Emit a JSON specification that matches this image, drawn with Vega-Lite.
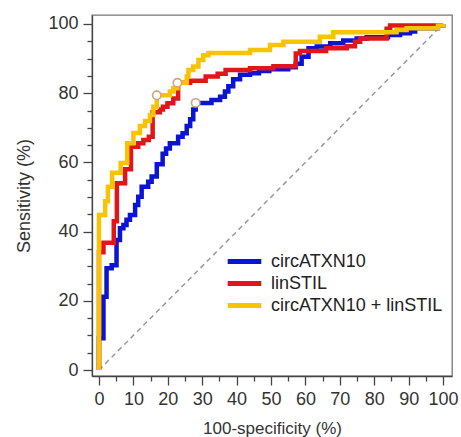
{
  "$schema": "https://vega.github.io/schema/vega-lite/v6.json",
  "width": 360,
  "height": 361,
  "autosize": {"type": "none"},
  "padding": {"left": 92, "top": 15, "right": 9, "bottom": 61},
  "background": "white",
  "config": {
    "view": {"stroke": "#777", "strokeWidth": 1.3},
    "font": "Liberation Sans",
    "axis": {
      "grid": false,
      "domainColor": "#444",
      "domainWidth": 1.3,
      "tickColor": "#444",
      "tickWidth": 1.3,
      "labelColor": "#333",
      "titleColor": "#333",
      "labelFont": "Liberation Sans",
      "titleFont": "Liberation Sans",
      "labelFontSize": 18,
      "titleFontWeight": "normal",
      "labelOverlap": false,
      "labelFlush": false
    },
    "legend": {
      "orient": "none",
      "legendX": 143,
      "legendY": 237,
      "padding": 0,
      "labelFont": "Liberation Sans",
      "labelFontSize": 18,
      "labelColor": "#222",
      "labelLimit": 0,
      "symbolType": "M-2.4,0H2.4",
      "symbolSize": 196,
      "symbolStrokeWidth": 5,
      "labelOffset": 17,
      "rowPadding": 1
    }
  },
  "datasets": {
    "roc": [
      {"s": "circATXN10", "i": 0, "x": 0, "y": 0},
      {"s": "circATXN10", "i": 1, "x": 0, "y": 9.2},
      {"s": "circATXN10", "i": 2, "x": 1.3, "y": 21.2},
      {"s": "circATXN10", "i": 3, "x": 2.2, "y": 29.4},
      {"s": "circATXN10", "i": 4, "x": 3.7, "y": 30.3},
      {"s": "circATXN10", "i": 5, "x": 5.1, "y": 37.6},
      {"s": "circATXN10", "i": 6, "x": 6.1, "y": 41},
      {"s": "circATXN10", "i": 7, "x": 7.1, "y": 41.9},
      {"s": "circATXN10", "i": 8, "x": 8, "y": 43.4},
      {"s": "circATXN10", "i": 9, "x": 9, "y": 44.8},
      {"s": "circATXN10", "i": 10, "x": 10.5, "y": 47.7},
      {"s": "circATXN10", "i": 11, "x": 11.4, "y": 50.1},
      {"s": "circATXN10", "i": 12, "x": 12.4, "y": 53},
      {"s": "circATXN10", "i": 13, "x": 14.3, "y": 54.4},
      {"s": "circATXN10", "i": 14, "x": 15.3, "y": 55.9},
      {"s": "circATXN10", "i": 15, "x": 16.8, "y": 59.5},
      {"s": "circATXN10", "i": 16, "x": 18.5, "y": 62.5},
      {"s": "circATXN10", "i": 17, "x": 19.5, "y": 64},
      {"s": "circATXN10", "i": 18, "x": 20.6, "y": 65.5},
      {"s": "circATXN10", "i": 19, "x": 23, "y": 67.4},
      {"s": "circATXN10", "i": 20, "x": 24.3, "y": 68.4},
      {"s": "circATXN10", "i": 21, "x": 25.5, "y": 70.5},
      {"s": "circATXN10", "i": 22, "x": 26.5, "y": 72.5},
      {"s": "circATXN10", "i": 23, "x": 27.4, "y": 75.3},
      {"s": "circATXN10", "i": 24, "x": 28.1, "y": 77.2},
      {"s": "circATXN10", "i": 25, "x": 32.7, "y": 78},
      {"s": "circATXN10", "i": 26, "x": 35.2, "y": 79},
      {"s": "circATXN10", "i": 27, "x": 36.6, "y": 80.5},
      {"s": "circATXN10", "i": 28, "x": 37.6, "y": 82},
      {"s": "circATXN10", "i": 29, "x": 39, "y": 84},
      {"s": "circATXN10", "i": 30, "x": 41, "y": 85.3},
      {"s": "circATXN10", "i": 31, "x": 43.9, "y": 85.8},
      {"s": "circATXN10", "i": 32, "x": 46.5, "y": 86.4},
      {"s": "circATXN10", "i": 33, "x": 49.5, "y": 86.9},
      {"s": "circATXN10", "i": 34, "x": 55, "y": 87.5},
      {"s": "circATXN10", "i": 35, "x": 57.2, "y": 88.5},
      {"s": "circATXN10", "i": 36, "x": 58.9, "y": 90.5},
      {"s": "circATXN10", "i": 37, "x": 60.9, "y": 93},
      {"s": "circATXN10", "i": 38, "x": 63.3, "y": 93.5},
      {"s": "circATXN10", "i": 39, "x": 67.2, "y": 94.4},
      {"s": "circATXN10", "i": 40, "x": 71, "y": 95.2},
      {"s": "circATXN10", "i": 41, "x": 74.9, "y": 95.8},
      {"s": "circATXN10", "i": 42, "x": 77.8, "y": 96.2},
      {"s": "circATXN10", "i": 43, "x": 84, "y": 96.8},
      {"s": "circATXN10", "i": 44, "x": 87.5, "y": 97.3},
      {"s": "circATXN10", "i": 45, "x": 90.4, "y": 97.8},
      {"s": "circATXN10", "i": 46, "x": 91.9, "y": 98.8},
      {"s": "circATXN10", "i": 47, "x": 98.5, "y": 99.6},
      {"s": "circATXN10", "i": 48, "x": 100, "y": 100},
      {"s": "linSTIL", "i": 0, "x": 0, "y": 0},
      {"s": "linSTIL", "i": 1, "x": 0, "y": 34},
      {"s": "linSTIL", "i": 2, "x": 1.3, "y": 36.8},
      {"s": "linSTIL", "i": 3, "x": 4.3, "y": 43},
      {"s": "linSTIL", "i": 4, "x": 5.2, "y": 54},
      {"s": "linSTIL", "i": 5, "x": 7.6, "y": 58},
      {"s": "linSTIL", "i": 6, "x": 9.3, "y": 64.5},
      {"s": "linSTIL", "i": 7, "x": 11.4, "y": 65.5},
      {"s": "linSTIL", "i": 8, "x": 12.9, "y": 66.5},
      {"s": "linSTIL", "i": 9, "x": 14.5, "y": 67.4},
      {"s": "linSTIL", "i": 10, "x": 15.6, "y": 74.5},
      {"s": "linSTIL", "i": 11, "x": 17.7, "y": 75.3},
      {"s": "linSTIL", "i": 12, "x": 18.6, "y": 76.1},
      {"s": "linSTIL", "i": 13, "x": 19.9, "y": 77.1},
      {"s": "linSTIL", "i": 14, "x": 21.6, "y": 78.5},
      {"s": "linSTIL", "i": 15, "x": 23, "y": 83},
      {"s": "linSTIL", "i": 16, "x": 26.5, "y": 83.6},
      {"s": "linSTIL", "i": 17, "x": 31, "y": 84.8},
      {"s": "linSTIL", "i": 18, "x": 34.5, "y": 85.6},
      {"s": "linSTIL", "i": 19, "x": 36.8, "y": 86.7},
      {"s": "linSTIL", "i": 20, "x": 43.9, "y": 87.2},
      {"s": "linSTIL", "i": 21, "x": 50.7, "y": 87.8},
      {"s": "linSTIL", "i": 22, "x": 57.2, "y": 91.5},
      {"s": "linSTIL", "i": 23, "x": 58.4, "y": 92.2},
      {"s": "linSTIL", "i": 24, "x": 66, "y": 93},
      {"s": "linSTIL", "i": 25, "x": 72, "y": 93.6},
      {"s": "linSTIL", "i": 26, "x": 74.4, "y": 94.9},
      {"s": "linSTIL", "i": 27, "x": 75.9, "y": 95.8},
      {"s": "linSTIL", "i": 28, "x": 83.6, "y": 98.6},
      {"s": "linSTIL", "i": 29, "x": 84.6, "y": 99.6},
      {"s": "linSTIL", "i": 30, "x": 100, "y": 100},
      {"s": "circATXN10 + linSTIL", "i": 0, "x": 0, "y": 0},
      {"s": "circATXN10 + linSTIL", "i": 1, "x": 0, "y": 44.8},
      {"s": "circATXN10 + linSTIL", "i": 2, "x": 1.8, "y": 48.8},
      {"s": "circATXN10 + linSTIL", "i": 3, "x": 2.6, "y": 53},
      {"s": "circATXN10 + linSTIL", "i": 4, "x": 3.8, "y": 57},
      {"s": "circATXN10 + linSTIL", "i": 5, "x": 6.3, "y": 59.8},
      {"s": "circATXN10 + linSTIL", "i": 6, "x": 8.2, "y": 65.5},
      {"s": "circATXN10 + linSTIL", "i": 7, "x": 10, "y": 68.5},
      {"s": "circATXN10 + linSTIL", "i": 8, "x": 11.9, "y": 70.5},
      {"s": "circATXN10 + linSTIL", "i": 9, "x": 13.4, "y": 72},
      {"s": "circATXN10 + linSTIL", "i": 10, "x": 14.8, "y": 73.7},
      {"s": "circATXN10 + linSTIL", "i": 11, "x": 15.8, "y": 76.1},
      {"s": "circATXN10 + linSTIL", "i": 12, "x": 16.8, "y": 79.4},
      {"s": "circATXN10 + linSTIL", "i": 13, "x": 20.6, "y": 80.5},
      {"s": "circATXN10 + linSTIL", "i": 14, "x": 21.6, "y": 81.4},
      {"s": "circATXN10 + linSTIL", "i": 15, "x": 22.8, "y": 83},
      {"s": "circATXN10 + linSTIL", "i": 16, "x": 25.5, "y": 84.8},
      {"s": "circATXN10 + linSTIL", "i": 17, "x": 26, "y": 86.7},
      {"s": "circATXN10 + linSTIL", "i": 18, "x": 27.4, "y": 87.7},
      {"s": "circATXN10 + linSTIL", "i": 19, "x": 28.9, "y": 89.6},
      {"s": "circATXN10 + linSTIL", "i": 20, "x": 30.3, "y": 91},
      {"s": "circATXN10 + linSTIL", "i": 21, "x": 31.8, "y": 91.6},
      {"s": "circATXN10 + linSTIL", "i": 22, "x": 43.9, "y": 92.5},
      {"s": "circATXN10 + linSTIL", "i": 23, "x": 49.7, "y": 93.9},
      {"s": "circATXN10 + linSTIL", "i": 24, "x": 53.6, "y": 94.9},
      {"s": "circATXN10 + linSTIL", "i": 25, "x": 64.2, "y": 96.3},
      {"s": "circATXN10 + linSTIL", "i": 26, "x": 68.1, "y": 97.6},
      {"s": "circATXN10 + linSTIL", "i": 27, "x": 86.5, "y": 98.3},
      {"s": "circATXN10 + linSTIL", "i": 28, "x": 89.4, "y": 98.8},
      {"s": "circATXN10 + linSTIL", "i": 29, "x": 98.5, "y": 99.6},
      {"s": "circATXN10 + linSTIL", "i": 30, "x": 100, "y": 100}
    ],
    "cut": [
      {"s": "circATXN10 + linSTIL", "x": 16.8, "y": 79.4},
      {"s": "linSTIL", "x": 22.8, "y": 83},
      {"s": "circATXN10", "x": 28.1, "y": 77.2}
    ],
    "diag": [
      {"x": 0, "y": 0},
      {"x": 100, "y": 100}
    ]
  },
  "encoding": {
    "x": {
      "field": "x",
      "type": "quantitative",
      "scale": {"domain": [-2.03, 102.6], "nice": false, "zero": false},
      "axis": {
        "title": "100-specificity (%)",
        "titleFontSize": 17,
        "titlePadding": 12,
        "values": [0, 5, 10, 15, 20, 25, 30, 35, 40, 45, 50, 55, 60, 65, 70, 75, 80, 85, 90, 95, 100],
        "labelExpr": "datum.value % 10 === 0 ? datum.label : ''",
        "labelPadding": 5,
        "tickSize": {"condition": {"test": "datum.value % 10 === 0", "value": 9}, "value": 5}
      }
    },
    "y": {
      "field": "y",
      "type": "quantitative",
      "scale": {"domain": [-1.73, 102.6], "nice": false, "zero": false},
      "axis": {
        "title": "Sensitivity (%)",
        "titleFontSize": 18,
        "titlePadding": 14,
        "values": [0, 5, 10, 15, 20, 25, 30, 35, 40, 45, 50, 55, 60, 65, 70, 75, 80, 85, 90, 95, 100],
        "labelExpr": "datum.value % 20 === 0 ? datum.label : ''",
        "labelPadding": 5,
        "tickSize": {"condition": {"test": "datum.value % 20 === 0", "value": 9}, "value": 5}
      }
    }
  },
  "layer": [
    {
      "data": {"name": "diag"},
      "mark": {"type": "line", "color": "#999", "strokeWidth": 1.5, "strokeDash": [5, 4]},
      "encoding": {}
    },
    {
      "data": {"name": "roc"},
      "transform": [{"filter": "datum.s === 'circATXN10'"}],
      "mark": {"type": "line", "interpolate": "step-after", "strokeWidth": 4.5},
      "encoding": {
        "order": {"field": "i", "type": "quantitative"},
        "color": {
          "field": "s",
          "type": "nominal",
          "scale": {"domain": ["circATXN10", "linSTIL", "circATXN10 + linSTIL"], "range": ["#0a14d2", "#e0161b", "#f8c300"]},
          "legend": {"title": null}
        }
      }
    },
    {
      "data": {"name": "roc"},
      "transform": [{"filter": "datum.s === 'linSTIL'"}],
      "mark": {"type": "line", "interpolate": "step-after", "strokeWidth": 4.5},
      "encoding": {
        "order": {"field": "i", "type": "quantitative"},
        "color": {"field": "s", "type": "nominal"}
      }
    },
    {
      "data": {"name": "roc"},
      "transform": [{"filter": "datum.s === 'circATXN10 + linSTIL'"}],
      "mark": {"type": "line", "interpolate": "step-after", "strokeWidth": 4.5},
      "encoding": {
        "order": {"field": "i", "type": "quantitative"},
        "color": {"field": "s", "type": "nominal"}
      }
    },
    {
      "data": {"name": "cut"},
      "mark": {"type": "point", "shape": "circle", "filled": false, "fill": "white", "fillOpacity": 1, "stroke": "#d4a276", "strokeWidth": 1.6, "size": 70, "opacity": 1},
      "encoding": {}
    }
  ]
}
